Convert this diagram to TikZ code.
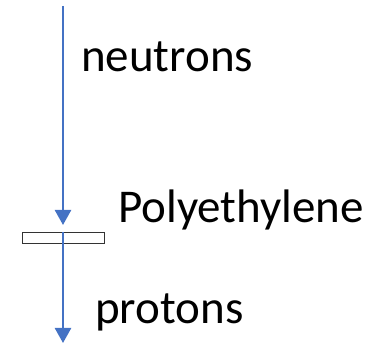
\documentclass[tikz,border=0pt]{standalone}
\usepackage{fontspec}
\setmainfont{Carlito}
\usetikzlibrary{arrows.meta}
\definecolor{arrowblue}{RGB}{68,114,196}
\tikzset{
  flow/.style={draw=arrowblue, line width=2.5pt, -{Triangle[width=16pt,length=15pt]}},
  lbl/.style={inner sep=0pt, anchor=base west, font=\fontsize{47}{51}\selectfont},
  slab/.style={draw=black!80, line width=0.9pt, fill=white, inner sep=0pt, minimum width=82pt, minimum height=11pt}
}
\begin{document}
\begin{tikzpicture}[x=1pt,y=1pt]
\useasboundingbox (0,0) rectangle (378,344);
\node[slab] (pe) at (63,106.5) {};
\coordinate (top) at (63,338);
\coordinate (tip1) at (63,119);
\coordinate (start2) at (63,112);
\coordinate (bot) at (63,1);
\draw[flow] (top) -- (tip1);
\draw[flow] (start2) -- (bot);
\node[lbl] (n) at (81,272) {neutrons};
\node[lbl] (p) at (118,121) {Polyethylene};
\node[lbl] (pr) at (95,20) {protons};
\end{tikzpicture}
\end{document}
